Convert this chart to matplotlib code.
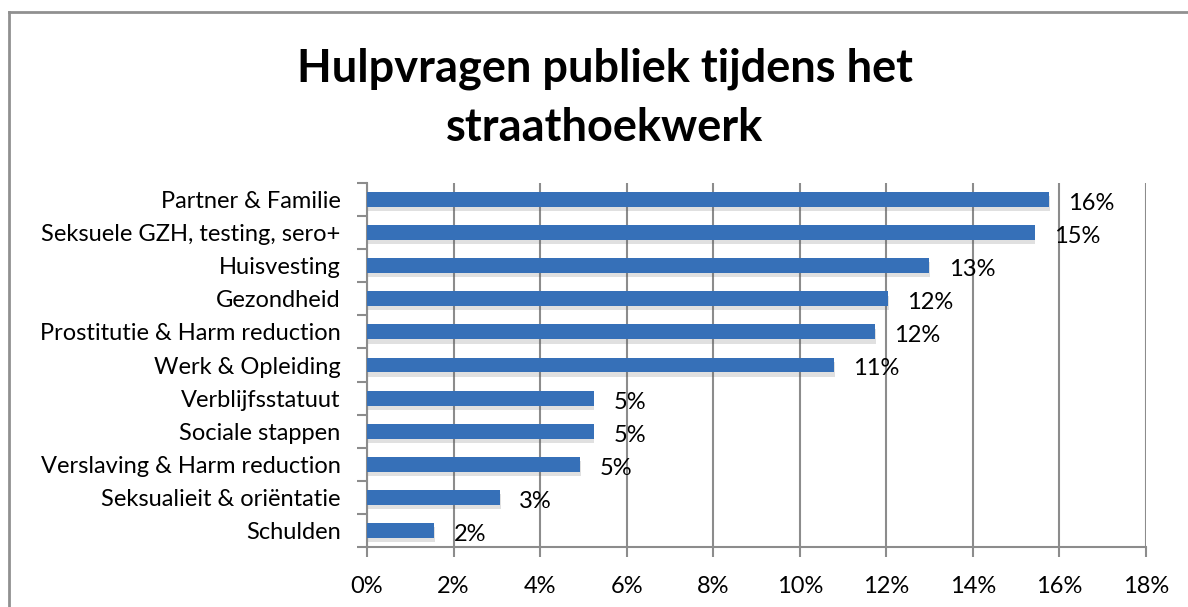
import matplotlib

matplotlib.use("Agg")
import matplotlib.pyplot as plt
import numpy as np
from matplotlib.lines import Line2D
from matplotlib.patheffects import SimplePatchShadow, Normal
from matplotlib.ticker import FuncFormatter, MultipleLocator

plt.rcParams["font.family"] = ["Lato", "DejaVu Sans"]

TITLE = "Hulpvragen publiek tijdens het\nstraathoekwerk"

# top to bottom, as in the chart
categories = [
    "Partner & Familie",
    "Seksuele GZH, testing, sero+",
    "Huisvesting",
    "Gezondheid",
    "Prostitutie & Harm reduction",
    "Werk & Opleiding",
    "Verblijfsstatuut",
    "Sociale stappen",
    "Verslaving & Harm reduction",
    "Seksualieit & oriëntatie",
    "Schulden",
]
values = [15.76, 15.43, 12.99, 12.04, 11.74, 10.79, 5.24, 5.24, 4.92, 3.07, 1.55]
labels = ["16%", "15%", "13%", "12%", "12%", "11%", "5%", "5%", "5%", "3%", "2%"]

BAR_COLOR = "#3670B8"
GRID_COLOR = "#8c8c8c"
FS = 17


def main() -> None:
    fig = plt.figure(figsize=(11.88, 6.07), dpi=100)
    ax = fig.add_axes([0.3089, 0.0988, 0.6557, 0.5997])

    n = len(categories)
    y = np.arange(n)[::-1]
    bars = ax.barh(y, values, height=0.45, color=BAR_COLOR, zorder=3)
    for bar in bars:
        bar.set_path_effects([SimplePatchShadow(offset=(0.5, -3), alpha=0.18, shadow_rgbFace="#555555"), Normal()])

    for yi, v, lab in zip(y, values, labels):
        ax.text(v + 0.45, yi - 0.12, lab, va="center", ha="left", fontsize=FS, color="black")

    ax.set_xlim(0, 18)
    ax.set_ylim(-0.5, n - 0.5)
    ax.xaxis.set_major_locator(MultipleLocator(2))
    ax.xaxis.set_major_formatter(FuncFormatter(lambda v, _: f"{v:.0f}%"))
    ax.set_yticks(y)
    ax.set_yticklabels(categories, fontsize=FS)
    ax.set_yticks(np.arange(-0.5, n, 1.0), minor=True)
    ax.tick_params(axis="y", which="major", length=0, pad=19)
    ax.tick_params(axis="y", which="minor", length=7, color=GRID_COLOR, width=1.5)
    ax.tick_params(axis="x", length=7, color=GRID_COLOR, width=1.5, labelsize=FS, pad=14)

    ax.grid(axis="x", color=GRID_COLOR, linewidth=1.5, zorder=0)
    ax.set_axisbelow(True)
    for side in ("top", "right"):
        ax.spines[side].set_visible(False)
    for side in ("left", "bottom"):
        ax.spines[side].set_color(GRID_COLOR)
        ax.spines[side].set_linewidth(1.5)

    fig.text(0.509, 0.838, TITLE, ha="center", va="center", fontsize=32.5,
             fontweight="bold", linespacing=1.5)

    # chart frame (left and top edges visible)
    fig.add_artist(Line2D([9 / 1188, 9 / 1188], [0, 1 - 12 / 607], transform=fig.transFigure,
                          color="#909090", linewidth=2))
    fig.add_artist(Line2D([9 / 1188, 1], [1 - 12 / 607, 1 - 12 / 607], transform=fig.transFigure,
                          color="#909090", linewidth=2))

    fig.savefig("out.png", dpi=100)
    plt.close(fig)


if __name__ == "__main__":
    main()
